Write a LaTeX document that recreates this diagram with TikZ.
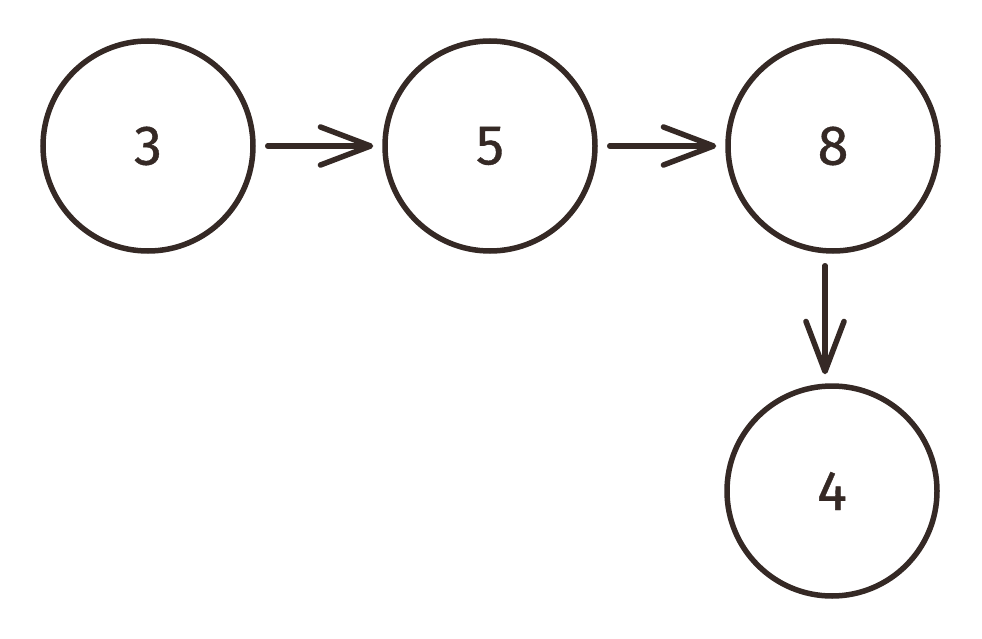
\documentclass[tikz,border=0pt]{standalone}
\usepackage{fontspec}
\setmainfont{Fira Sans}[FakeBold=0.7]
\usetikzlibrary{arrows.meta}
\definecolor{ink}{HTML}{352925}
\begin{document}
\begin{tikzpicture}[x=1pt,y=-1pt,
  numnode/.style={circle,draw=ink,line width=5.5pt,minimum size=210pt,inner sep=0pt,
    text=ink,font=\fontsize{56}{60}\selectfont},
  link/.style={draw=ink,line width=5.5pt,line cap=round,
    -{Straight Barb[length=50pt,width=38pt,line width=5.5pt,round]},
    shorten <=12pt,shorten >=9pt}]
\useasboundingbox[fill=white] (0,0) rectangle (982,639);
\node[numnode] (n3) at (148,146) {3};
\node[numnode] (n5) at (490,146) {5};
\node[numnode] (n8) at (833,146) {8};
\node[numnode] (n4) at (832,491) {4};
\draw[link] (n3) -- (n5);
\draw[link] (n5) -- (n8);
\draw[link] ([xshift=-8pt]n8.south) -- ([xshift=-7pt]n4.north);
\end{tikzpicture}
\end{document}
